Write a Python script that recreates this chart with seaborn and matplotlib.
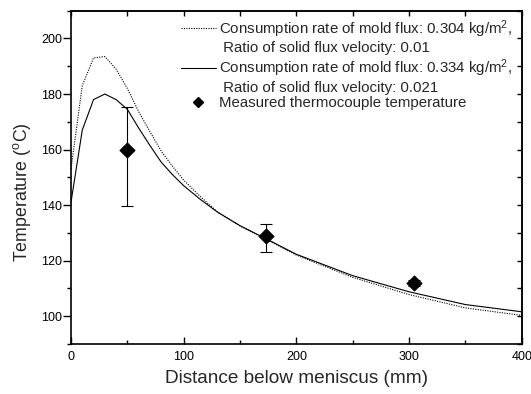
import matplotlib
matplotlib.use("Agg")
import matplotlib.pyplot as plt
from matplotlib.lines import Line2D
from matplotlib.ticker import MultipleLocator
import numpy as np
import pandas as pd
import seaborn as sns

# Simulated mould-flux temperature along the strand (two flux conditions)
dist_sim = [0, 10, 20, 30, 40, 50, 60, 70, 80, 90, 100, 115, 130, 150, 175,
            200, 250, 300, 350, 400]
temp_flux_0304 = [153, 183, 193, 193.5, 189, 182, 173.7, 166.5, 159.5, 154,
                  149, 143, 137.5, 132.5, 127.3, 122, 114, 107.8, 103, 100.3]
temp_flux_0334 = [141, 167, 178, 180, 178, 174.5, 167.8, 161.5, 155.5, 151,
                  147, 142, 137.5, 132.6, 127.5, 122.3, 114.6, 108.8, 104.2, 101.6]

# Thermocouple measurements with their spread
dist_meas = [49.5, 173.5, 304]
temp_meas = [160, 129, 112]
err_low = [139.7, 123.3, 111]
err_high = [175.4, 133.1, 113]

label_a = "Consumption rate of mold flux: 0.304 kg/m$^2$,"
label_a2 = " Ratio of solid flux velocity: 0.01"
label_b = "Consumption rate of mold flux: 0.334 kg/m$^2$,"
label_b2 = " Ratio of solid flux velocity: 0.021"
label_m = "Measured thermocouple temperature"

sns.set_theme(style="white")
plt.rcParams["font.family"] = ["Liberation Sans", "DejaVu Sans"]
plt.rcParams["mathtext.fontset"] = "custom"
plt.rcParams["mathtext.rm"] = "Liberation Sans"
plt.rcParams["mathtext.it"] = "Liberation Sans:italic"

sim = pd.DataFrame({"dist": dist_sim, "a": temp_flux_0304, "b": temp_flux_0334})
meas = pd.DataFrame({"dist": dist_meas, "temp": temp_meas})

fig = plt.figure(figsize=(5.31, 3.94), dpi=100)
ax = fig.add_axes([71 / 531, 50 / 394, 450.7 / 531, 333.3 / 394])

dotted = (0, (1, 1.2))
sns.lineplot(data=sim, x="dist", y="a", ax=ax, color="black", lw=0.8,
             linestyle=dotted, estimator=None)
sns.lineplot(data=sim, x="dist", y="b", ax=ax, color="black", lw=0.8,
             estimator=None)

yerr = np.array([np.array(temp_meas) - np.array(err_low),
                 np.array(err_high) - np.array(temp_meas)])
ax.errorbar(dist_meas, temp_meas, yerr=yerr, fmt="none", ecolor="black",
            elinewidth=0.8, capsize=4, capthick=0.8)
sns.scatterplot(data=meas, x="dist", y="temp", ax=ax, marker="D", s=60,
                color="black", edgecolor="black", zorder=5)

ax.set_xlim(0, 400)
ax.set_ylim(90, 210)
ax.xaxis.set_major_locator(MultipleLocator(100))
ax.xaxis.set_minor_locator(MultipleLocator(50))
ax.yaxis.set_minor_locator(MultipleLocator(10))
ax.set_yticks([100, 120, 140, 160, 180, 200])

for s in ax.spines.values():
    s.set_color("black")
    s.set_linewidth(1.2)

ax.tick_params(axis="x", which="both", direction="in", colors="black",
               labelsize=9, pad=5, bottom=True)
ax.tick_params(axis="x", which="major", length=5, width=1)
ax.tick_params(axis="x", which="minor", length=3, width=1)
ax.tick_params(axis="y", which="both", direction="out", colors="black",
               labelsize=9, pad=1, left=True)
ax.tick_params(axis="y", which="major", length=5.5, width=1)
ax.tick_params(axis="y", which="minor", length=3, width=1)

top = ax.secondary_xaxis("top")
top.xaxis.set_major_locator(MultipleLocator(50))
top.tick_params(direction="in", length=3.3, width=1, labeltop=False, colors="black")
top.spines["top"].set_linewidth(1.2)
right = ax.secondary_yaxis("right")
right.yaxis.set_major_locator(MultipleLocator(10))
right.tick_params(direction="in", length=3.5, width=1, labelright=False, colors="black")
right.spines["right"].set_linewidth(1.2)

ax.set_xlabel("Distance below meniscus (mm)", fontsize=13.7, labelpad=5)
ax.set_ylabel("Temperature ($^{\\rm o}$C)", fontsize=12.8)
ax.yaxis.set_label_coords(-0.085, 0.455)

blank = Line2D([], [], color="none")
handles = [
    Line2D([], [], color="black", lw=0.8, linestyle=dotted), blank,
    Line2D([], [], color="black", lw=0.8), blank,
    Line2D([], [], color="black", marker="D", markersize=5, linestyle="none"),
]
labels = [label_a, label_a2, label_b, label_b2, label_m]
ax.legend(handles, labels, loc="upper left", bbox_to_anchor=(181 / 531, 1 - 18 / 394),
          bbox_transform=fig.transFigure, frameon=False, fontsize=10.8,
          handlelength=2.33, handletextpad=0.2, labelspacing=0.12, borderpad=0,
          borderaxespad=0)

fig.savefig("out.png", dpi=100)
